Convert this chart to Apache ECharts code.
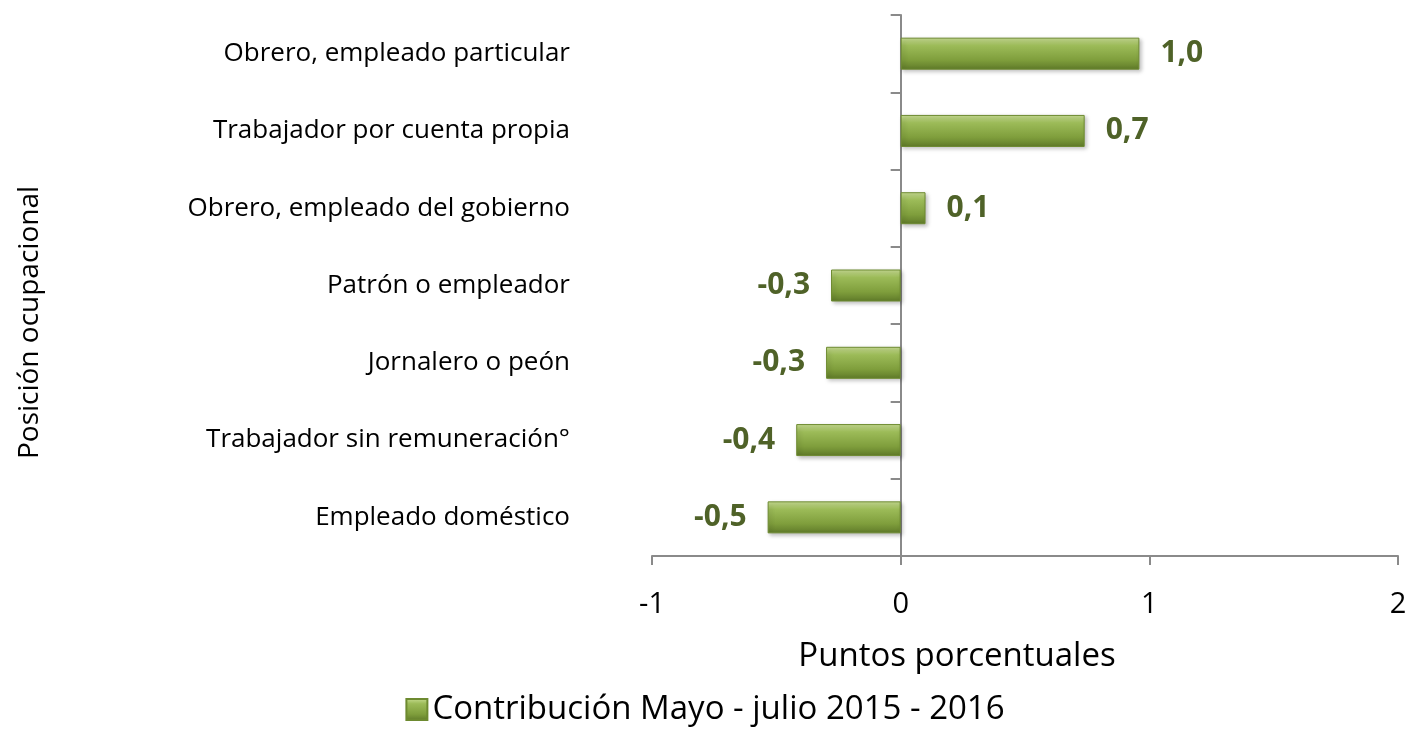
<!DOCTYPE html>
<html>
<head>
<meta charset="utf-8">
<script src="https://cdn.jsdelivr.net/npm/echarts@6/dist/echarts.min.js"></script>
<style>
  html, body { margin: 0; padding: 0; background: #fff; }
  #posChart { width: 1410px; height: 731px; }
</style>
</head>
<body>
<div id="posChart"></div>
<script>
var categories = [
    'Obrero, empleado particular',
    'Trabajador por cuenta propia',
    'Obrero, empleado del gobierno',
    'Patrón o empleador',
    'Jornalero o peón',
    'Trabajador sin remuneración°',
    'Empleado doméstico'
]
var values = [0.96, 0.74, 0.10, -0.28, -0.30, -0.42, -0.535]
var xTicks = [-1, 0, 1, 2]
var seriesName = 'Contribución Mayo - julio 2015 - 2016'

var barColor = new echarts.graphic.LinearGradient(0, 0, 0, 1, [
    {offset: 0, color: '#c9de94'},
    {offset: 0.25, color: '#9cbb58'},
    {offset: 0.7, color: '#7f9e3c'},
    {offset: 1, color: '#5f7a29'}
])

var posChart = echarts.init(document.getElementById('posChart'));
var option = {
    animation: false,
    textStyle: {fontFamily: 'Open Sans'},
    grid: {
        left: 652,
        right: 12,
        top: 15,
        bottom: 175,
        outerBoundsMode: 'none',
    },
    xAxis: {
        type: 'value',
        min: xTicks[0],
        max: xTicks[xTicks.length - 1],
        interval: 1,
        name: 'Puntos porcentuales',
        nameLocation: 'center',
        nameGap: 84,
        nameTextStyle: {fontSize: 33, color: '#000', padding: [0, 136, 0, 0]},
        axisLine: {show: true, lineStyle: {color: '#8a8a8a', width: 2}},
        axisTick: {show: true, length: 9, lineStyle: {color: '#8a8a8a', width: 2}},
        axisLabel: {fontSize: 29, color: '#000', margin: 34},
        splitLine: {show: false},
    },
    yAxis: {
        type: 'category',
        inverse: true,
        data: categories,
        name: 'Posición ocupacional',
        nameLocation: 'center',
        nameRotate: 90,
        nameGap: 608,
        nameTextStyle: {fontSize: 28, color: '#000', padding: [0, 74, 0, 0]},
        axisLine: {show: true, onZero: true, lineStyle: {color: '#8a8a8a', width: 2}},
        axisTick: {show: true, length: 10, lineStyle: {color: '#8a8a8a', width: 2}},
        axisLabel: {fontSize: 26, color: '#000', margin: 82},
    },
    legend: {
        bottom: 0,
        left: 'center',
        itemWidth: 21,
        itemHeight: 21,
        itemGap: 6,
        textStyle: {fontSize: 33, color: '#000'},
        data: [{name: seriesName, icon: 'rect'}],
    },
    series: [{
        name: seriesName,
        type: 'bar',
        barWidth: 32,
        data: values.map(function (v) {
            return {
                value: v,
                label: {position: v < 0 ? 'left' : 'right'}
            };
        }),
        itemStyle: {
            color: barColor,
            borderColor: '#6d8a30',
            borderWidth: 1,
            shadowColor: 'rgba(0,0,0,0.25)',
            shadowBlur: 4,
            shadowOffsetX: 2,
            shadowOffsetY: 2,
        },
        label: {
            show: true,
            distance: 21,
            fontSize: 30,
            fontWeight: 'bold',
            color: '#4f6228',
            formatter: function (p) {
                return p.value.toFixed(1).replace('.', ',');
            }
        },
    }]
};

posChart.setOption(option);
</script>
</body>
</html>
